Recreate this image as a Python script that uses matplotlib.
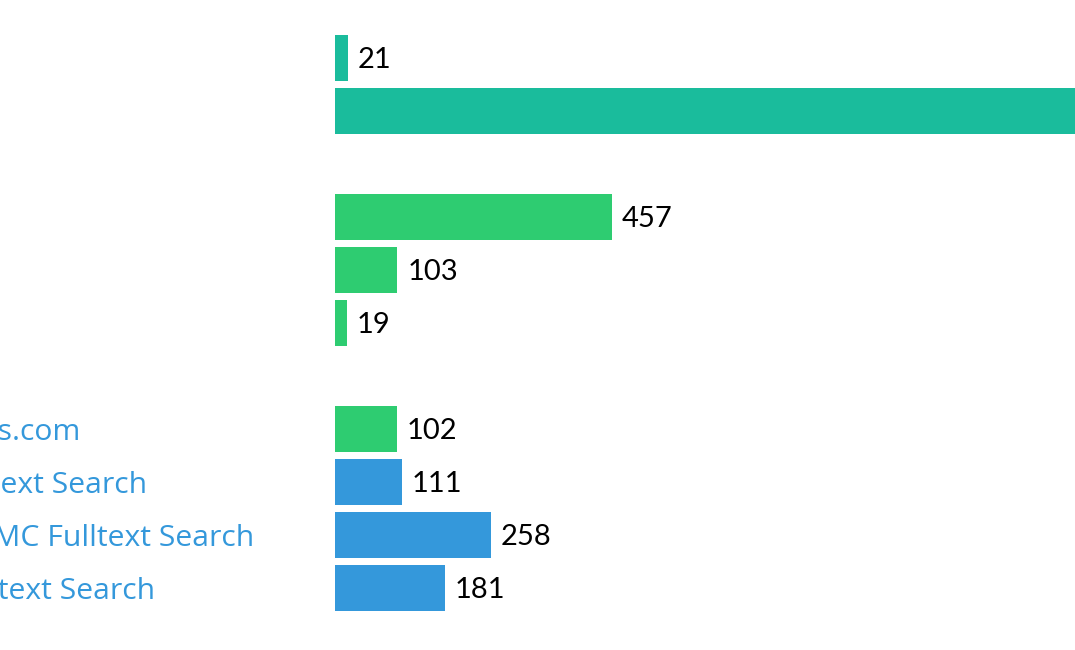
import matplotlib
matplotlib.use("Agg")
import matplotlib.pyplot as plt

plt.rcParams['font.family'] = ['Lato', 'DejaVu Sans']

# rows top to bottom; None = empty spacer row
labels = ["Scopus", "Google", "Web", "PubMed", "Bing", "Yahoo",
          "Platform", "Getpapers.com", "Core Fulltext Search",
          "Europe PMC Fulltext Search", "SSRN Fulltext Search"]
values = [21, 1340, None, 457, 103, 19, None, 102, 111, 258, 181]
groups = ["a", "a", None, "b", "b", "b", None, "b", "c", "c", "c"]

colors = {"a": "#1abc9c", "b": "#2ecc71", "c": "#3498db"}
label_color = "#3498db"


def main():
    fig = plt.figure(figsize=(10.75, 6.5), dpi=100)
    ax = fig.add_axes([335 / 1075, 1 - 614.5 / 650, 740 / 1075, 583 / 650])

    for i, (v, g) in enumerate(zip(values, groups)):
        if v is None:
            continue
        ax.barh(i, v, height=0.85, color=colors[g], edgecolor="none")
        ax.annotate(str(v), xy=(v, i), xytext=(7, -1.5), textcoords="offset points",
                    va="center", ha="left", fontsize=21, color="black",
                    annotation_clip=False)

    ax.set_xlim(0, 1221)
    ax.set_ylim(len(values) - 0.5, -0.5)
    ax.set_yticks(range(len(labels)))
    ax.set_yticklabels(labels, color=label_color, fontsize=21.7, ha="left",
                       family=["Open Sans", "DejaVu Sans"])
    ax.tick_params(axis="y", length=0, pad=338)
    ax.set_xticks([])
    for s in ax.spines.values():
        s.set_visible(False)

    fig.savefig("out.png", dpi=100)


if __name__ == "__main__":
    main()
